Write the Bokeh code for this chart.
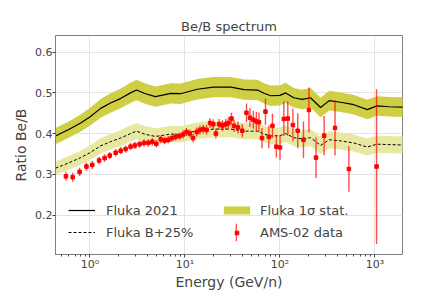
from bokeh.plotting import figure
from bokeh.models import FixedTicker, Legend, LegendItem
from bokeh.embed import file_html
from bokeh.resources import INLINE

# ---- data ----
E_fluka = [0.435, 0.6, 0.8, 1.0, 1.3, 1.65, 2.1, 2.68, 3.1, 3.85, 4.9, 6.0, 7.1, 9.0,
           13.5, 20, 30.5, 42, 58, 68, 80, 100, 115, 140, 172, 210, 268, 330, 435,
           600, 830, 1050, 1400, 2000]
fluka_2021 = [0.394, 0.410, 0.426, 0.441, 0.462, 0.475, 0.486, 0.500, 0.507, 0.498,
              0.491, 0.495, 0.499, 0.498, 0.509, 0.514, 0.514, 0.508, 0.507, 0.499,
              0.493, 0.494, 0.500, 0.488, 0.484, 0.488, 0.464, 0.481, 0.477, 0.471,
              0.459, 0.468, 0.466, 0.465]
fluka_2021_err = [0.020, 0.020, 0.021, 0.022, 0.023, 0.024, 0.024, 0.025, 0.025, 0.025,
                  0.025, 0.025, 0.025, 0.025, 0.025, 0.025, 0.025, 0.025, 0.025, 0.025,
                  0.025, 0.025, 0.025, 0.024, 0.024, 0.024, 0.024, 0.024, 0.024, 0.024,
                  0.024, 0.024, 0.024, 0.024]
fluka_b25 = [0.315, 0.328, 0.341, 0.353, 0.370, 0.380, 0.389, 0.400, 0.406, 0.398,
             0.393, 0.396, 0.399, 0.398, 0.407, 0.411, 0.411, 0.406, 0.406, 0.399,
             0.394, 0.395, 0.400, 0.390, 0.387, 0.390, 0.371, 0.385, 0.382, 0.377,
             0.367, 0.374, 0.373, 0.372]
fluka_b25_err = [0.016, 0.017, 0.017, 0.018, 0.019, 0.019, 0.020, 0.020, 0.020, 0.020,
                 0.020, 0.020, 0.020, 0.020, 0.020, 0.020, 0.020, 0.020, 0.020, 0.020,
                 0.020, 0.020, 0.020, 0.021, 0.021, 0.021, 0.021, 0.021, 0.021, 0.021,
                 0.021, 0.021, 0.021, 0.021]

E_ams = [0.56, 0.66, 0.78, 0.92, 1.06, 1.25, 1.43, 1.62, 1.87, 2.11, 2.38, 2.68, 2.98,
         3.34, 3.71, 4.12, 4.54, 5.0, 5.57, 6.13, 6.7, 7.3, 8.0, 8.8, 9.6, 10.4, 11.3,
         12.2, 13.3, 14.4, 15.6, 16.9, 18.4, 19.9, 21.2, 22.9, 24.8, 26.9, 28.7, 30.9,
         32.9, 36.2, 40.2, 44.5, 48.4, 52.5, 56.5, 60.2, 64.8, 70.5, 76.5, 83.5, 91.8,
         100.3, 110, 121, 137, 154, 177, 202, 240, 292, 380, 532, 1040]
ams_ratio = [0.295, 0.293, 0.306, 0.319, 0.323, 0.334, 0.340, 0.346, 0.353, 0.358,
             0.362, 0.368, 0.371, 0.374, 0.377, 0.377, 0.380, 0.375, 0.386, 0.383,
             0.385, 0.389, 0.392, 0.394, 0.398, 0.404, 0.400, 0.389, 0.404, 0.409,
             0.411, 0.409, 0.426, 0.423, 0.400, 0.423, 0.420, 0.423, 0.426, 0.437,
             0.419, 0.415, 0.407, 0.451, 0.439, 0.434, 0.430, 0.428, 0.389, 0.454,
             0.392, 0.419, 0.368, 0.366, 0.436, 0.437, 0.421, 0.407, 0.385, 0.458,
             0.341, 0.395, 0.414, 0.313, 0.319]
ams_err = [0.011, 0.011, 0.010, 0.010, 0.010, 0.009, 0.009, 0.009, 0.009, 0.009,
           0.009, 0.009, 0.009, 0.009, 0.009, 0.009, 0.009, 0.009, 0.009, 0.009,
           0.009, 0.009, 0.009, 0.009, 0.010, 0.010, 0.010, 0.010, 0.011, 0.011,
           0.011, 0.012, 0.012, 0.012, 0.012, 0.013, 0.013, 0.013, 0.014, 0.014,
           0.015, 0.015, 0.016, 0.023, 0.023, 0.022, 0.023, 0.024, 0.025, 0.032,
           0.028, 0.030, 0.027, 0.030, 0.042, 0.042, 0.040, 0.043, 0.045, 0.055,
           0.050, 0.048, 0.068, 0.056, 0.190]

x_ticks = [1, 10, 100, 1000]
x_tick_labels = {1: "10\u2070", 10: "10\u00b9", 100: "10\u00b2", 1000: "10\u00b3"}
y_ticks = [0.2, 0.3, 0.4, 0.5, 0.6]

FONT = "DejaVu Sans"
BAND_DARK = "#cfcf45"
BAND_LIGHT = "#e8e8a2"

p = figure(width=431, height=292, x_axis_type="log",
           x_range=(0.435, 1950), y_range=(0.103, 0.641),
           output_backend="svg", toolbar_location=None,
           title="Be/B spectrum",
           min_border_left=55, min_border_right=29, min_border_top=35,
           min_border_bottom=5)

p.title.align = "center"
p.title.text_font = FONT
p.title.text_font_size = "13px"
p.title.text_font_style = "normal"
p.title.standoff = 3

# bands
lo1 = [v - e for v, e in zip(fluka_2021, fluka_2021_err)]
hi1 = [v + e for v, e in zip(fluka_2021, fluka_2021_err)]
lo2 = [v - e for v, e in zip(fluka_b25, fluka_b25_err)]
hi2 = [v + e for v, e in zip(fluka_b25, fluka_b25_err)]

band2 = p.varea(x=E_fluka, y1=lo2, y2=hi2, fill_color=BAND_LIGHT, fill_alpha=1)
band1 = p.varea(x=E_fluka, y1=lo1, y2=hi1, fill_color=BAND_DARK, fill_alpha=1)

l1 = p.line(E_fluka, fluka_2021, line_color="black", line_width=1.2)
l2 = p.line(E_fluka, fluka_b25, line_color="black", line_width=1.0, line_dash="3 2")

# AMS data: error bars as thin screen-width rects, plus markers
ams_h = [2 * e for e in ams_err]
bars = p.rect(x=E_ams, y=ams_ratio, width=1.4, width_units="screen", height=ams_h,
              fill_color="red", fill_alpha=0.7, line_color=None)
marks = p.scatter(E_ams, ams_ratio, marker="square", size=3.5, fill_color="red",
                  line_color="red")

# axes
p.xaxis.ticker = FixedTicker(ticks=x_ticks,
                             minor_ticks=[m * 10.0 ** k for k in range(-1, 4) for m in range(2, 10)])
p.xgrid.ticker = FixedTicker(ticks=x_ticks)
p.xaxis.major_label_overrides = x_tick_labels
p.yaxis.ticker = FixedTicker(ticks=y_ticks)
p.ygrid.ticker = FixedTicker(ticks=y_ticks)

p.xaxis.axis_label = "Energy (GeV/n)"
p.yaxis.axis_label = "Ratio Be/B"
for ax in (p.xaxis, p.yaxis):
    ax.axis_label_text_font = FONT
    ax.axis_label_text_font_size = "14px"
    ax.axis_label_text_font_style = "normal"
    ax.major_label_text_font = FONT
    ax.major_label_text_font_size = "11px"
    ax.axis_line_color = "#808080"
    ax.major_tick_line_color = "#404040"
    ax.minor_tick_line_color = "#404040"
    ax.major_tick_out = 3
    ax.major_tick_in = 0
    ax.minor_tick_out = 2
    ax.minor_tick_in = 0
    ax.major_label_standoff = 0
    ax.axis_label_standoff = 0
p.yaxis.minor_tick_line_color = None
p.yaxis.axis_label_standoff = 3

p.xgrid.grid_line_color = "#e3e3e3"
p.ygrid.grid_line_color = "#e3e3e3"
p.outline_line_color = "#808080"
p.outline_line_alpha = 1

def mk_legend(items, loc, gw, gh, lh, standoff, spacing=2):
    lg = Legend(items=items, location=loc, glyph_width=gw, glyph_height=gh,
                label_height=lh, label_standoff=standoff, spacing=spacing,
                padding=0, margin=0, label_text_font=FONT,
                label_text_font_size="13px", background_fill_alpha=0,
                border_line_color=None)
    p.add_layout(lg)
    return lg

mk_legend([LegendItem(label="Fluka 2021", renderers=[l1]),
           LegendItem(label="Fluka B+25%", renderers=[l2])],
          (13, 12), 27, 20, 20, 11)
mk_legend([LegendItem(label="Fluka 1\u03c3 stat.", renderers=[band1])],
          (165, 34), 33, 10, 20, 7)
mk_legend([LegendItem(label="AMS-02 data", renderers=[bars])],
          (180, 11), 2, 22, 20, 23)
mk_legend([LegendItem(label=" ", renderers=[marks])],
          (176.5, 17.5), 9, 9, 9, 1)

open("out.html", "w").write(file_html(p, INLINE))
